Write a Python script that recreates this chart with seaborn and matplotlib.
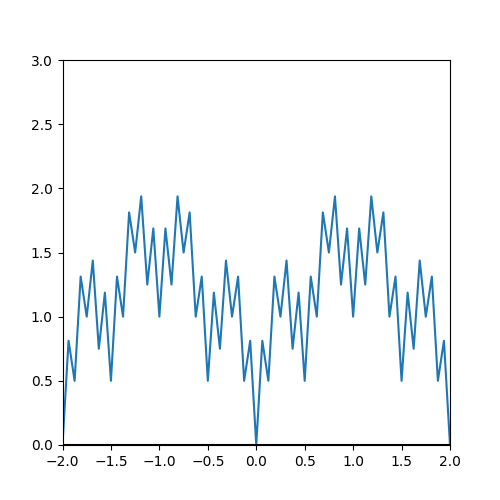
import numpy as np
import pandas as pd
import seaborn as sns
import matplotlib
matplotlib.use('Agg')
import matplotlib.pyplot as plt

# vertices every 1/16 from -2 to 2
x_vals = np.linspace(-2.0, 2.0, 65)
half = [0.0, 0.8125, 0.5, 1.3125, 1.0, 1.4375, 0.75, 1.1875, 0.5,
        1.3125, 1.0, 1.8125, 1.5, 1.9375, 1.25, 1.6875, 1.0,
        1.6875, 1.25, 1.9375, 1.5, 1.8125, 1.0, 1.3125, 0.5,
        1.1875, 0.75, 1.4375, 1.0, 1.3125, 0.5, 0.8125]
y_vals = half + half + [0.0]

df = pd.DataFrame({'x': x_vals, 'y': y_vals})

fig, ax = plt.subplots(figsize=(5, 5), dpi=100)
sns.lineplot(x='x', y='y', data=df, ax=ax, color='#1f77b4', linewidth=1.5)
ax.axhline(0, color='black', linewidth=1.5)
ax.set_xlim(-2, 2)
ax.set_ylim(0, 3)
ax.set_xlabel('')
ax.set_ylabel('')
plt.savefig('out.png', dpi=100)
